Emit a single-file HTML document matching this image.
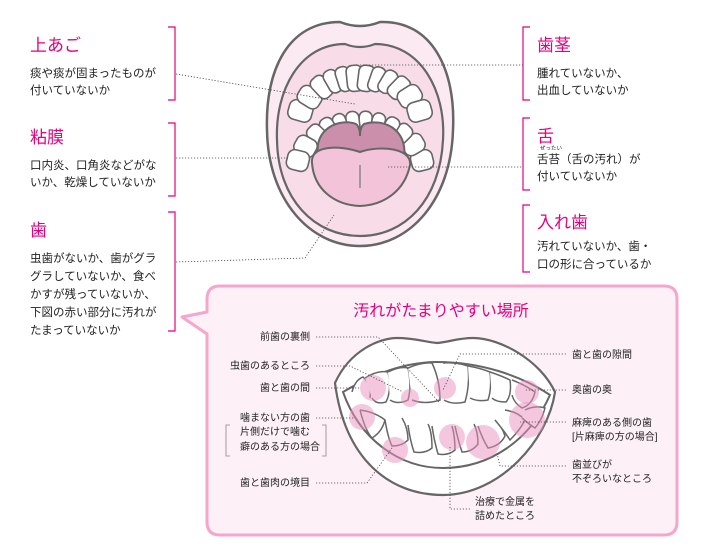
<!DOCTYPE html>
<html><head><meta charset="utf-8"><style>
html,body{margin:0;padding:0;background:#fff;}
svg{display:block;font-family:"Liberation Sans","Noto Sans CJK JP",sans-serif;}
.h{fill:#e4007f;font-size:17px;}
.t{fill:#222;font-size:11.5px;}
.s{fill:#222;font-size:10px;}
.br{stroke:#e4007f;stroke-width:1.2;fill:none;}
.d{stroke:#444;stroke-width:0.8;stroke-dasharray:1.2 1.8;fill:none;}
.tooth{fill:#fff;stroke:#666;stroke-width:1.6;}
.spot{fill:#ec8fbd;opacity:.5;}
</style></head><body>
<svg width="712" height="560" viewBox="0 0 712 560">
<path d="M340,22 Q360,30 380,22 C432,20 456,70 453,130 C451,200 410,246 360,246 C310,246 268,200 267,130 C265,70 288,22 340,22Z" fill="#fbeaf1" stroke="#666" stroke-width="2.5"/>
<path d="M345,44 Q360,50 375,44 C420,44 446,90 443,140 C440,200 405,236 360,236 C315,236 278,200 277,140 C275,90 300,44 345,44Z" fill="#f8dde9" stroke="#666" stroke-width="2.2"/>
<g transform="translate(360,128)">
<g transform="rotate(-74) translate(0,-62)"><rect class="tooth" x="-10" y="-12" width="20" height="24" rx="7"/></g>
<g transform="rotate(-58) translate(0,-59)"><rect class="tooth" x="-10" y="-12" width="19" height="24" rx="7"/></g>
<g transform="rotate(-43) translate(0,-56)"><rect class="tooth" x="-8" y="-12" width="16" height="24" rx="6"/></g>
<g transform="rotate(-30) translate(0,-54)"><rect class="tooth" x="-7" y="-12" width="14" height="24" rx="6"/></g>
<g transform="rotate(-18) translate(0,-52)"><rect class="tooth" x="-7" y="-12" width="14" height="25" rx="6"/></g>
<g transform="rotate(-6) translate(0,-51)"><rect class="tooth" x="-8" y="-12" width="16" height="26" rx="6"/></g>
<g transform="rotate(7) translate(0,-51)"><rect class="tooth" x="-8" y="-12" width="16" height="26" rx="6"/></g>
<g transform="rotate(19) translate(0,-52)"><rect class="tooth" x="-7" y="-12" width="14" height="25" rx="6"/></g>
<g transform="rotate(31) translate(0,-54)"><rect class="tooth" x="-7" y="-12" width="14" height="24" rx="6"/></g>
<g transform="rotate(44) translate(0,-56)"><rect class="tooth" x="-8" y="-12" width="16" height="24" rx="6"/></g>
<g transform="rotate(58) translate(0,-59)"><rect class="tooth" x="-10" y="-12" width="19" height="24" rx="7"/></g>
<g transform="rotate(74) translate(0,-62)"><rect class="tooth" x="-10" y="-12" width="20" height="24" rx="7"/></g>
</g>
<g transform="translate(360,176)">
<g transform="rotate(76) translate(0,-64)"><rect class="tooth" x="-10" y="-11" width="20" height="22" rx="7"/></g>
<g transform="rotate(60) translate(0,-62)"><rect class="tooth" x="-10" y="-11" width="19" height="22" rx="7"/></g>
<g transform="rotate(45) translate(0,-59)"><rect class="tooth" x="-8" y="-11" width="16" height="22" rx="6"/></g>
<g transform="rotate(32) translate(0,-57)"><rect class="tooth" x="-7" y="-11" width="14" height="22" rx="6"/></g>
<g transform="rotate(19) translate(0,-55)"><rect class="tooth" x="-7" y="-11" width="13" height="22" rx="6"/></g>
<g transform="rotate(6) translate(0,-54)"><rect class="tooth" x="-7" y="-11" width="13" height="22" rx="6"/></g>
<g transform="rotate(-7) translate(0,-54)"><rect class="tooth" x="-7" y="-11" width="13" height="22" rx="6"/></g>
<g transform="rotate(-20) translate(0,-55)"><rect class="tooth" x="-7" y="-11" width="13" height="22" rx="6"/></g>
<g transform="rotate(-33) translate(0,-57)"><rect class="tooth" x="-7" y="-11" width="14" height="22" rx="6"/></g>
<g transform="rotate(-46) translate(0,-59)"><rect class="tooth" x="-8" y="-11" width="16" height="22" rx="6"/></g>
<g transform="rotate(-61) translate(0,-62)"><rect class="tooth" x="-10" y="-11" width="19" height="22" rx="7"/></g>
<g transform="rotate(-76) translate(0,-64)"><rect class="tooth" x="-10" y="-11" width="20" height="22" rx="7"/></g>
</g>
<path d="M318,155 C314,128 340,118 356,124 Q360,127 360,136 Q360,127 364,124 C382,118 408,128 404,158 Z" fill="#cc8fab" stroke="#666" stroke-width="2"/>
<path d="M312,163 C310,145 340,145 360,152 C380,145 412,148 410,165 C405,190 385,205 360,206 C335,205 314,190 312,163Z" fill="#f2c3d9" stroke="#666" stroke-width="2"/>
<line x1="360" y1="165" x2="360" y2="188" stroke="#888" stroke-width="1.5"/>

<text class="h" x="30" y="51">上あご</text>
<text class="t" x="30" y="77">痰や痰が固まったものが</text>
<text class="t" x="30" y="94">付いていないか</text>
<path class="br" d="M168,27 H175 V100 H168"/>
<path class="d" d="M176,74 L355,104"/>
<text class="h" x="30" y="143">粘膜</text>
<text class="t" x="30" y="169">口内炎、口角炎などがな</text>
<text class="t" x="30" y="186">いか、乾燥していないか</text>
<path class="br" d="M168,123 H175 V196 H168"/>
<path class="d" d="M176,158 L288,158"/>
<text class="h" x="30" y="236">歯</text>
<text class="t" x="30" y="262">虫歯がないか、歯がグラ</text>
<text class="t" x="30" y="280">グラしていないか、食べ</text>
<text class="t" x="30" y="298">かすが残っていないか、</text>
<text class="t" x="30" y="316">下図の赤い部分に汚れが</text>
<text class="t" x="30" y="334">たまっていないか</text>
<path class="br" d="M168,212 H175 V331 H168"/>
<path class="d" d="M176,262 L305,258 L334,215"/>

<text class="h" x="537" y="51">歯茎</text>
<text class="t" x="537" y="77">腫れていないか、</text>
<text class="t" x="537" y="94">出血していないか</text>
<path class="br" d="M530,27 H523 V100 H530"/>
<path class="d" d="M360,65 L523,65"/>
<text class="h" x="537" y="142">舌</text>
<text x="540" y="150" fill="#222" font-size="5.5">ぜったい</text>
<text class="t" x="537" y="163">舌苔（舌の汚れ）が</text>
<text class="t" x="537" y="180">付いていないか</text>
<path class="br" d="M530,118 H523 V190 H530"/>
<path class="d" d="M388,167 L523,167"/>
<text class="h" x="537" y="228">入れ歯</text>
<text class="t" x="537" y="250">汚れていないか、歯・</text>
<text class="t" x="537" y="268">口の形に合っているか</text>
<path class="br" d="M530,205 H523 V272 H530"/>

<path d="M220,286 H664 Q677,286 677,299 V522 Q677,535 664,535 H220 Q207,535 207,522 V334 L182,317 L207,312 V299 Q207,286 220,286Z" fill="#fdf0f6" stroke="#f6a6cb" stroke-width="3" stroke-linejoin="round"/>
<text x="441" y="316" text-anchor="middle" fill="#e4007f" font-size="16">汚れがたまりやすい場所</text>

<path d="M335,383 C350,350 380,338 397,338 C415,338 425,342 437,343 C449,342 458,338 473,338 C500,338 540,360 555,392 C548,440 500,495 443,495 C390,495 345,460 335,383Z" fill="#fff" stroke="#666" stroke-width="2.2"/>
<path d="M343,392 C380,370 410,362 437,362 C480,362 520,375 550,395 C530,440 490,468 443,468 C400,468 360,440 343,392Z" fill="#fff" stroke="#666" stroke-width="2"/>
<g fill="#fff" stroke="#666" stroke-width="1.5">
<path d="M352,392 Q355,380 363,377 Q372,385 370,398"/>
<path d="M365,378 Q378,370 388,372 Q392,390 386,402 Q376,405 372,398"/>
<path d="M388,372 Q400,366 408,368 Q412,385 408,400 Q398,405 390,400"/>
<path d="M408,368 Q422,362 432,363 Q440,380 440,400 Q425,405 412,400"/>
<path d="M443,363 Q455,362 468,366 Q470,385 465,402 Q452,405 444,400"/>
<path d="M468,366 Q480,368 490,372 Q492,388 488,400 Q478,402 470,398"/>
<path d="M490,372 Q502,376 510,380 Q512,395 506,402 Q496,402 492,398"/>
<path d="M512,380 Q525,385 535,392 Q532,405 522,408 Q514,403 512,395"/>
<path d="M360,410 Q365,430 372,438 Q382,432 385,420 Q375,412 360,410"/>
<path d="M385,420 Q388,438 392,446 Q402,446 408,440 Q408,428 402,418"/>
<path d="M408,425 Q410,440 414,452 Q425,454 432,448 Q432,432 428,424"/>
<path d="M432,426 Q434,440 438,454 Q448,456 455,450 Q455,436 452,426"/>
<path d="M455,426 Q458,440 462,452 Q472,452 478,444 Q478,432 474,424"/>
<path d="M478,426 Q482,438 488,448 Q500,446 505,436 Q502,426 495,420"/>
<path d="M495,420 Q505,432 510,440 Q520,430 525,420 Q518,412 505,410"/>
<path d="M522,418 Q530,425 535,428 Q542,420 545,408 Q535,405 525,410"/>
</g>
<circle class="spot" cx="373" cy="388" r="13"/>
<circle class="spot" cx="410" cy="398" r="9"/>
<circle class="spot" cx="445" cy="388" r="11"/>
<circle class="spot" cx="527" cy="392" r="12"/>
<circle class="spot" cx="362" cy="417" r="13"/>
<circle class="spot" cx="527" cy="420" r="18"/>
<circle class="spot" cx="395" cy="450" r="13"/>
<circle class="spot" cx="452" cy="437" r="13"/>
<circle class="spot" cx="483" cy="442" r="17"/>

<text class="s" x="310" y="340" text-anchor="end">前歯の裏側</text>
<text class="s" x="310" y="369" text-anchor="end">虫歯のあるところ</text>
<text class="s" x="310" y="391" text-anchor="end">歯と歯の間</text>
<text class="s" x="310" y="421" text-anchor="end">噛まない方の歯</text>
<text class="s" x="310" y="435" text-anchor="end">片側だけで噛む</text>
<text class="s" x="320" y="450" text-anchor="end">癖のある方の場合</text>
<text class="s" x="310" y="486" text-anchor="end">歯と歯肉の境目</text>
<text class="s" x="572" y="358">歯と歯の隙間</text>
<text class="s" x="572" y="393">奥歯の奥</text>
<text class="s" x="572" y="426">麻痺のある側の歯</text>
<text class="s" x="572" y="440">[片麻痺の方の場合]</text>
<text class="s" x="572" y="468">歯並びが</text>
<text class="s" x="572" y="482">不ぞろいなところ</text>
<text class="s" x="475" y="505">治療で金属を</text>
<text class="s" x="475" y="519">詰めたところ</text>
<path d="M230,425 H226 V456 H230 M322,425 H326 V456 H322" stroke="#888" stroke-width="0.8" fill="none"/>
<path class="d" d="M316,337 H378 L440,403"/>
<path class="d" d="M316,366 H350 L403,392"/>
<path class="d" d="M316,388 H360"/>
<path class="d" d="M316,418 H355"/>
<path class="d" d="M316,483 H367 L392,448"/>
<path class="d" d="M566,354 H460 L443,390"/>
<path class="d" d="M566,390 H525"/>
<path class="d" d="M566,422 H520"/>
<path class="d" d="M566,466 H500 L497,453"/>
<path class="d" d="M470,509 H450 V447"/>
</svg>
</body></html>
